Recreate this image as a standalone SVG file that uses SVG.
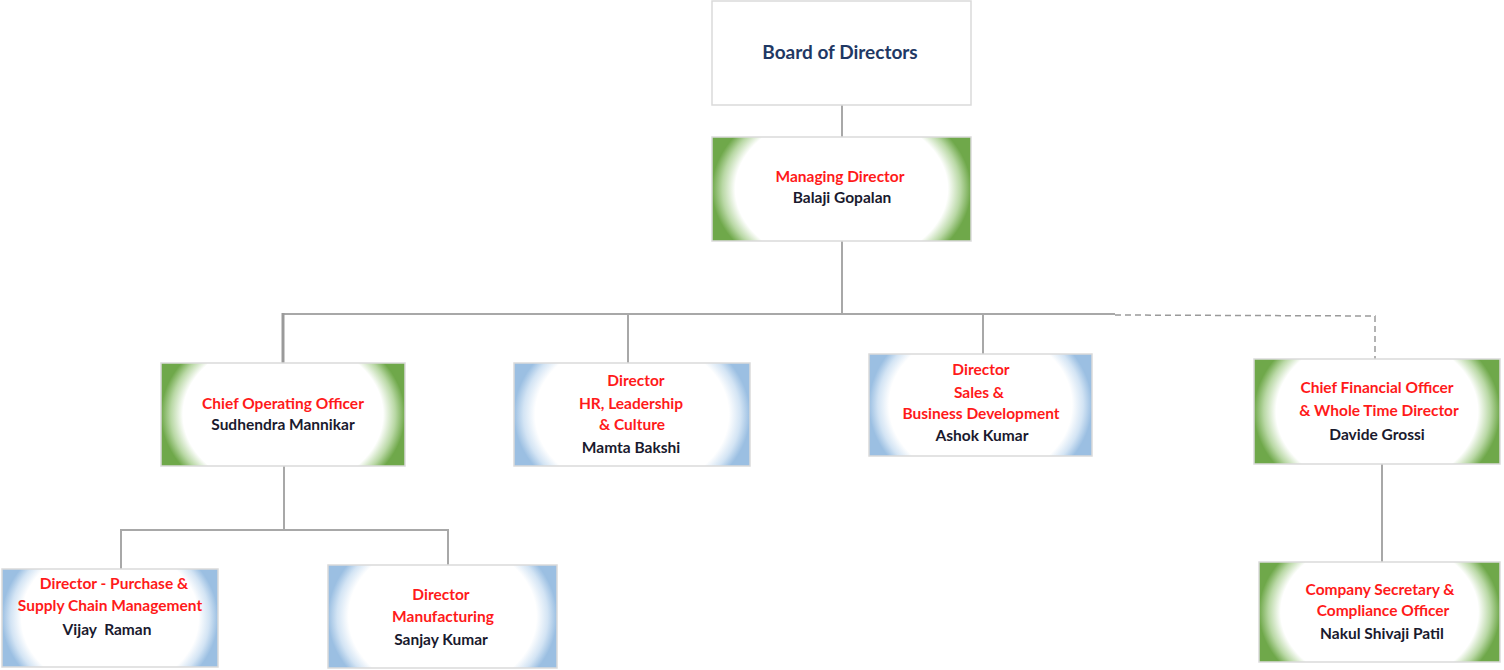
<svg xmlns="http://www.w3.org/2000/svg" width="1504" height="670" viewBox="0 0 1504 670">
<defs>
<radialGradient id="gGreen" cx="0.5" cy="0.5" r="0.5" gradientTransform="translate(0.5 0.5) scale(1 1.8) translate(-0.5 -0.5)">
<stop offset="0" stop-color="#ffffff"/>
<stop offset="0.82" stop-color="#ffffff"/>
<stop offset="0.92" stop-color="#b9d8a5"/>
<stop offset="1" stop-color="#6fa84a"/>
</radialGradient>
<radialGradient id="gBlue" cx="0.5" cy="0.5" r="0.5" gradientTransform="translate(0.5 0.5) scale(1 1.8) translate(-0.5 -0.5)">
<stop offset="0" stop-color="#ffffff"/>
<stop offset="0.82" stop-color="#ffffff"/>
<stop offset="0.92" stop-color="#d3e4f4"/>
<stop offset="1" stop-color="#9bbfe2"/>
</radialGradient>
</defs>
<style>
.box{stroke:#dadada;stroke-width:1.5}
.green{fill:url(#gGreen)}
.blue{fill:url(#gBlue)}
.plain{fill:#ffffff}
text{font-family:"Lato","Liberation Sans",sans-serif;font-weight:bold;text-anchor:middle;font-size:15.5px}
.t{fill:#ff1a1a}
.n{fill:#1a1a2e}
.title{fill:#1f3864;font-size:19px}
.c{fill:none;stroke:#a8a8a8;stroke-width:2}
.thick{stroke:#9a9a9a;stroke-width:3}
.dash{fill:none;stroke:#9a9a9a;stroke-width:1.5;stroke-dasharray:6 4}
</style>
<g id="connectors">
<line class="c" x1="842" y1="105" x2="842" y2="137"/>
<line class="c" x1="842" y1="241" x2="842" y2="314"/>
<line class="c" x1="283" y1="314" x2="1115" y2="314"/>
<line class="c thick" x1="283" y1="313" x2="283" y2="377"/>
<line class="c" x1="628" y1="314" x2="628" y2="363"/>
<line class="c" x1="983" y1="314" x2="983" y2="354"/>
<polyline class="dash" points="1115,315 1375,316 1375,359"/>
<line class="c" x1="1382" y1="464" x2="1382" y2="562"/>
<line class="c" x1="284" y1="466" x2="284" y2="530"/>
<polyline class="c" points="121,569 121,530 448,530 448,565"/>
</g>
<g id="board">
<rect class="box plain" x="712" y="1" width="259" height="104"/>
<text class="title" x="840" y="59">Board of Directors</text>
</g>
<g id="md">
<rect class="box green" x="712" y="137" width="259" height="104"/>
<text class="t" x="840" y="182">Managing Director</text>
<text class="n" x="842" y="203">Balaji Gopalan</text>
</g>
<g id="coo">
<rect class="box green" x="161" y="363" width="244" height="103"/>
<text class="t" x="283" y="409">Chief Operating Officer</text>
<text class="n" x="283" y="430">Sudhendra Mannikar</text>
</g>
<g id="hr">
<rect class="box blue" x="514" y="363" width="236" height="103"/>
<text class="t" x="636" y="386">Director</text>
<text class="t" x="631" y="409">HR, Leadership</text>
<text class="t" x="632" y="430">&amp; Culture</text>
<text class="n" x="631" y="453">Mamta Bakshi</text>
</g>
<g id="sales">
<rect class="box blue" x="869" y="354" width="223" height="102"/>
<text class="t" x="981" y="375">Director</text>
<text class="t" x="979" y="398">Sales &amp;</text>
<text class="t" x="981" y="419">Business Development</text>
<text class="n" x="982" y="441">Ashok Kumar</text>
</g>
<g id="cfo">
<rect class="box green" x="1254" y="359" width="246" height="105"/>
<text class="t" x="1377" y="393">Chief Financial Officer</text>
<text class="t" x="1379" y="416">&amp; Whole Time Director</text>
<text class="n" x="1377" y="440">Davide Grossi</text>
</g>
<g id="purchase">
<rect class="box blue" x="2" y="569" width="216" height="98"/>
<text class="t" x="114" y="589">Director - Purchase &amp;</text>
<text class="t" x="110" y="611">Supply Chain Management</text>
<text class="n" x="107" y="635" xml:space="preserve">Vijay  Raman</text>
</g>
<g id="manufacturing">
<rect class="box blue" x="328" y="565" width="229" height="103"/>
<text class="t" x="441" y="600">Director</text>
<text class="t" x="443" y="622">Manufacturing</text>
<text class="n" x="441" y="645">Sanjay Kumar</text>
</g>
<g id="cs">
<rect class="box green" x="1259" y="562" width="241" height="100"/>
<text class="t" x="1380" y="595">Company Secretary &amp;</text>
<text class="t" x="1383" y="616">Compliance Officer</text>
<text class="n" x="1382" y="639">Nakul Shivaji Patil</text>
</g>
</svg>
